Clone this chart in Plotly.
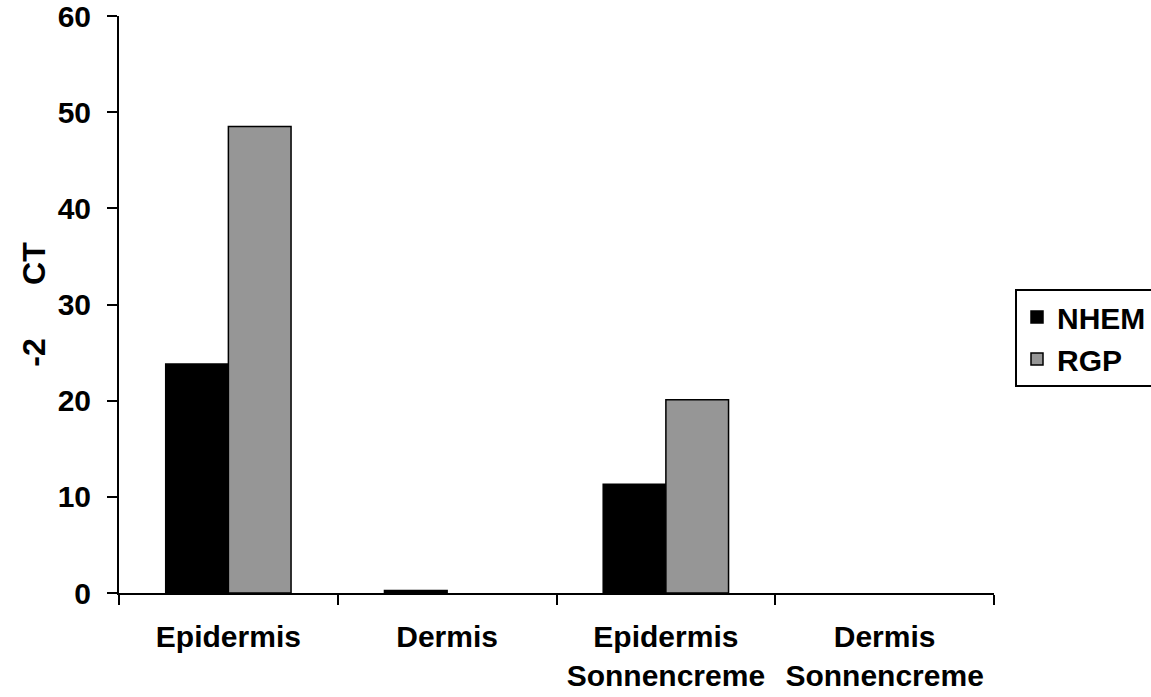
import plotly.graph_objects as go

categories = ["Epidermis", "Dermis", "Epidermis<br>Sonnencreme", "Dermis<br>Sonnencreme"]
nhem = [23.8, 0.25, 11.3, 0.0]
rgp = [48.5, 0.0, 20.1, 0.0]
y_ticks = [0, 10, 20, 30, 40, 50, 60]

FONT = "Liberation Sans, Arial, sans-serif"


def outline(values):
    return [1.5 if v > 0 else 0 for v in values]


fig = go.Figure()
fig.add_trace(go.Bar(name="NHEM", x=categories, y=nhem,
                     marker=dict(color="#000000",
                                 line=dict(color="#000000", width=outline(nhem)))))
fig.add_trace(go.Bar(name="RGP", x=categories, y=rgp,
                     marker=dict(color="#969696",
                                 line=dict(color="#000000", width=outline(rgp)))))

fig.update_layout(
    width=1151, height=697,
    margin=dict(l=119, r=157, t=16, b=104, autoexpand=False),
    paper_bgcolor="white", plot_bgcolor="white",
    barmode="group", bargap=0.427, bargroupgap=0,
    font=dict(family=FONT, color="black", weight="bold"),
    showlegend=True,
    legend=dict(xref="container", yref="container",
                x=1015 / 1151, y=1 - 289 / 697, xanchor="left", yanchor="top",
                bordercolor="black", borderwidth=2, bgcolor="white",
                font=dict(size=30, family=FONT, color="black", weight="bold"),
                itemwidth=30, tracegroupgap=0),
    xaxis=dict(
        type="category", range=[-0.5, 3.5], automargin=False,
        showline=True, linecolor="black", linewidth=2,
        ticks="outside", tickson="boundaries", ticklen=10, tickwidth=2, tickcolor="black",
        tickfont=dict(size=30, family=FONT, color="black", weight="bold"),
        ticklabelstandoff=16, ticklabeloverflow="allow",
        showgrid=False, zeroline=False,
    ),
    yaxis=dict(
        range=[0, 60.0001], tickvals=y_ticks, automargin=False,
        showline=True, linecolor="black", linewidth=2,
        ticks="outside", ticklen=10, tickwidth=2, tickcolor="black",
        tickfont=dict(size=30, family=FONT, color="black", weight="bold"),
        ticklabelstandoff=10, ticklabeloverflow="allow",
        showgrid=False, zeroline=False,
        title=dict(text="-2      CT", standoff=2,
                   font=dict(size=32, family=FONT, color="black", weight="bold")),
    ),
)

fig.write_html("out.html")
